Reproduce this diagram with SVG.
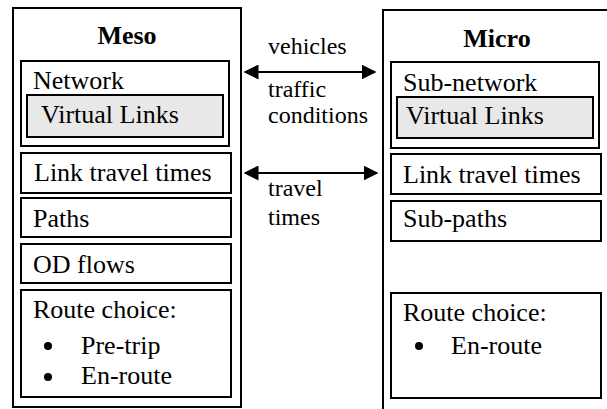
<svg xmlns="http://www.w3.org/2000/svg" width="607" height="409" viewBox="0 0 607 409">
<defs>
<style>
.box{fill:#fff;stroke:#000;stroke-width:2}
.vl{fill:#e8e8e8;stroke:#000;stroke-width:2}
text{font-family:'Liberation Serif','Times New Roman','DejaVu Serif',serif;fill:#000}
.t{font-size:26px}
.h{font-size:26px;font-weight:bold;text-anchor:middle}
.lbl{font-size:24px}
.conn{stroke:#000;stroke-width:2;fill:none;marker-start:url(#ah);marker-end:url(#ah)}
</style>
<marker id="ah" viewBox="0 0 10 10" refX="9" refY="5" markerWidth="7.5" markerHeight="7.5" markerUnits="strokeWidth" orient="auto-start-reverse">
<path d="M0,0 L10,5 L0,10 z" fill="#000"/>
</marker>
</defs>
<rect width="607" height="409" fill="#fff"/>

<g id="meso">
<rect class="box" x="13" y="8" width="228" height="399"/>
<text class="h" x="127" y="44" font-family="Liberation Serif, serif">Meso</text>
</g>
<g id="meso-network">
<rect class="box" x="21" y="61" width="208" height="85"/>
<text class="t" x="33" y="89" font-family="Liberation Serif, serif">Network</text>
<g id="meso-virtual-links">
<rect class="vl" x="27" y="95" width="196" height="42"/>
<text class="t" x="41" y="123" font-family="Liberation Serif, serif">Virtual Links</text>
</g>
</g>
<g id="meso-ltt">
<rect class="box" x="21" y="153" width="210" height="40"/>
<text class="t" x="34" y="181" font-family="Liberation Serif, serif">Link travel times</text>
</g>
<g id="meso-paths">
<rect class="box" x="21" y="198" width="210" height="39"/>
<text class="t" x="33" y="227" font-family="Liberation Serif, serif">Paths</text>
</g>
<g id="meso-od">
<rect class="box" x="21" y="244" width="210" height="39"/>
<text class="t" x="33" y="273" font-family="Liberation Serif, serif">OD flows</text>
</g>
<g id="meso-route">
<rect class="box" x="21" y="290" width="210" height="107"/>
<text class="t" x="33" y="318" font-family="Liberation Serif, serif">Route choice:</text>
<circle cx="48" cy="346" r="4"/>
<text class="t" x="81" y="354" font-family="Liberation Serif, serif">Pre-trip</text>
<circle cx="48" cy="377" r="4"/>
<text class="t" x="81" y="384" font-family="Liberation Serif, serif">En-route</text>
</g>

<g id="micro">
<rect class="box" x="383" y="10" width="240" height="420"/>
<text class="h" x="497" y="47" font-family="Liberation Serif, serif">Micro</text>
</g>
<g id="micro-network">
<rect class="box" x="391" y="62" width="208" height="86"/>
<text class="t" x="403" y="91" font-family="Liberation Serif, serif">Sub-network</text>
<g id="micro-virtual-links">
<rect class="vl" x="397" y="97" width="196" height="41"/>
<text class="t" x="406" y="124" font-family="Liberation Serif, serif">Virtual Links</text>
</g>
</g>
<g id="micro-ltt">
<rect class="box" x="391" y="154" width="210" height="40"/>
<text class="t" x="403" y="183" font-family="Liberation Serif, serif">Link travel times</text>
</g>
<g id="micro-subpaths">
<rect class="box" x="391" y="201" width="210" height="40"/>
<text class="t" x="403" y="227" font-family="Liberation Serif, serif">Sub-paths</text>
</g>
<g id="micro-route">
<rect class="box" x="391" y="293" width="210" height="105"/>
<text class="t" x="403" y="321" font-family="Liberation Serif, serif">Route choice:</text>
<circle cx="419" cy="346" r="4"/>
<text class="t" x="451" y="354" font-family="Liberation Serif, serif">En-route</text>
</g>

<g id="connectors">
<line class="conn" x1="245" y1="72" x2="375" y2="72"/>
<line class="conn" x1="245" y1="173" x2="377" y2="173"/>
<text class="lbl" x="268" y="54" font-family="Liberation Serif, serif">vehicles</text>
<text class="lbl" x="268" y="97" font-family="Liberation Serif, serif">traffic</text>
<text class="lbl" x="268" y="123" font-family="Liberation Serif, serif">conditions</text>
<text class="lbl" x="268" y="196" font-family="Liberation Serif, serif">travel</text>
<text class="lbl" x="268" y="225" font-family="Liberation Serif, serif">times</text>
</g>
</svg>
